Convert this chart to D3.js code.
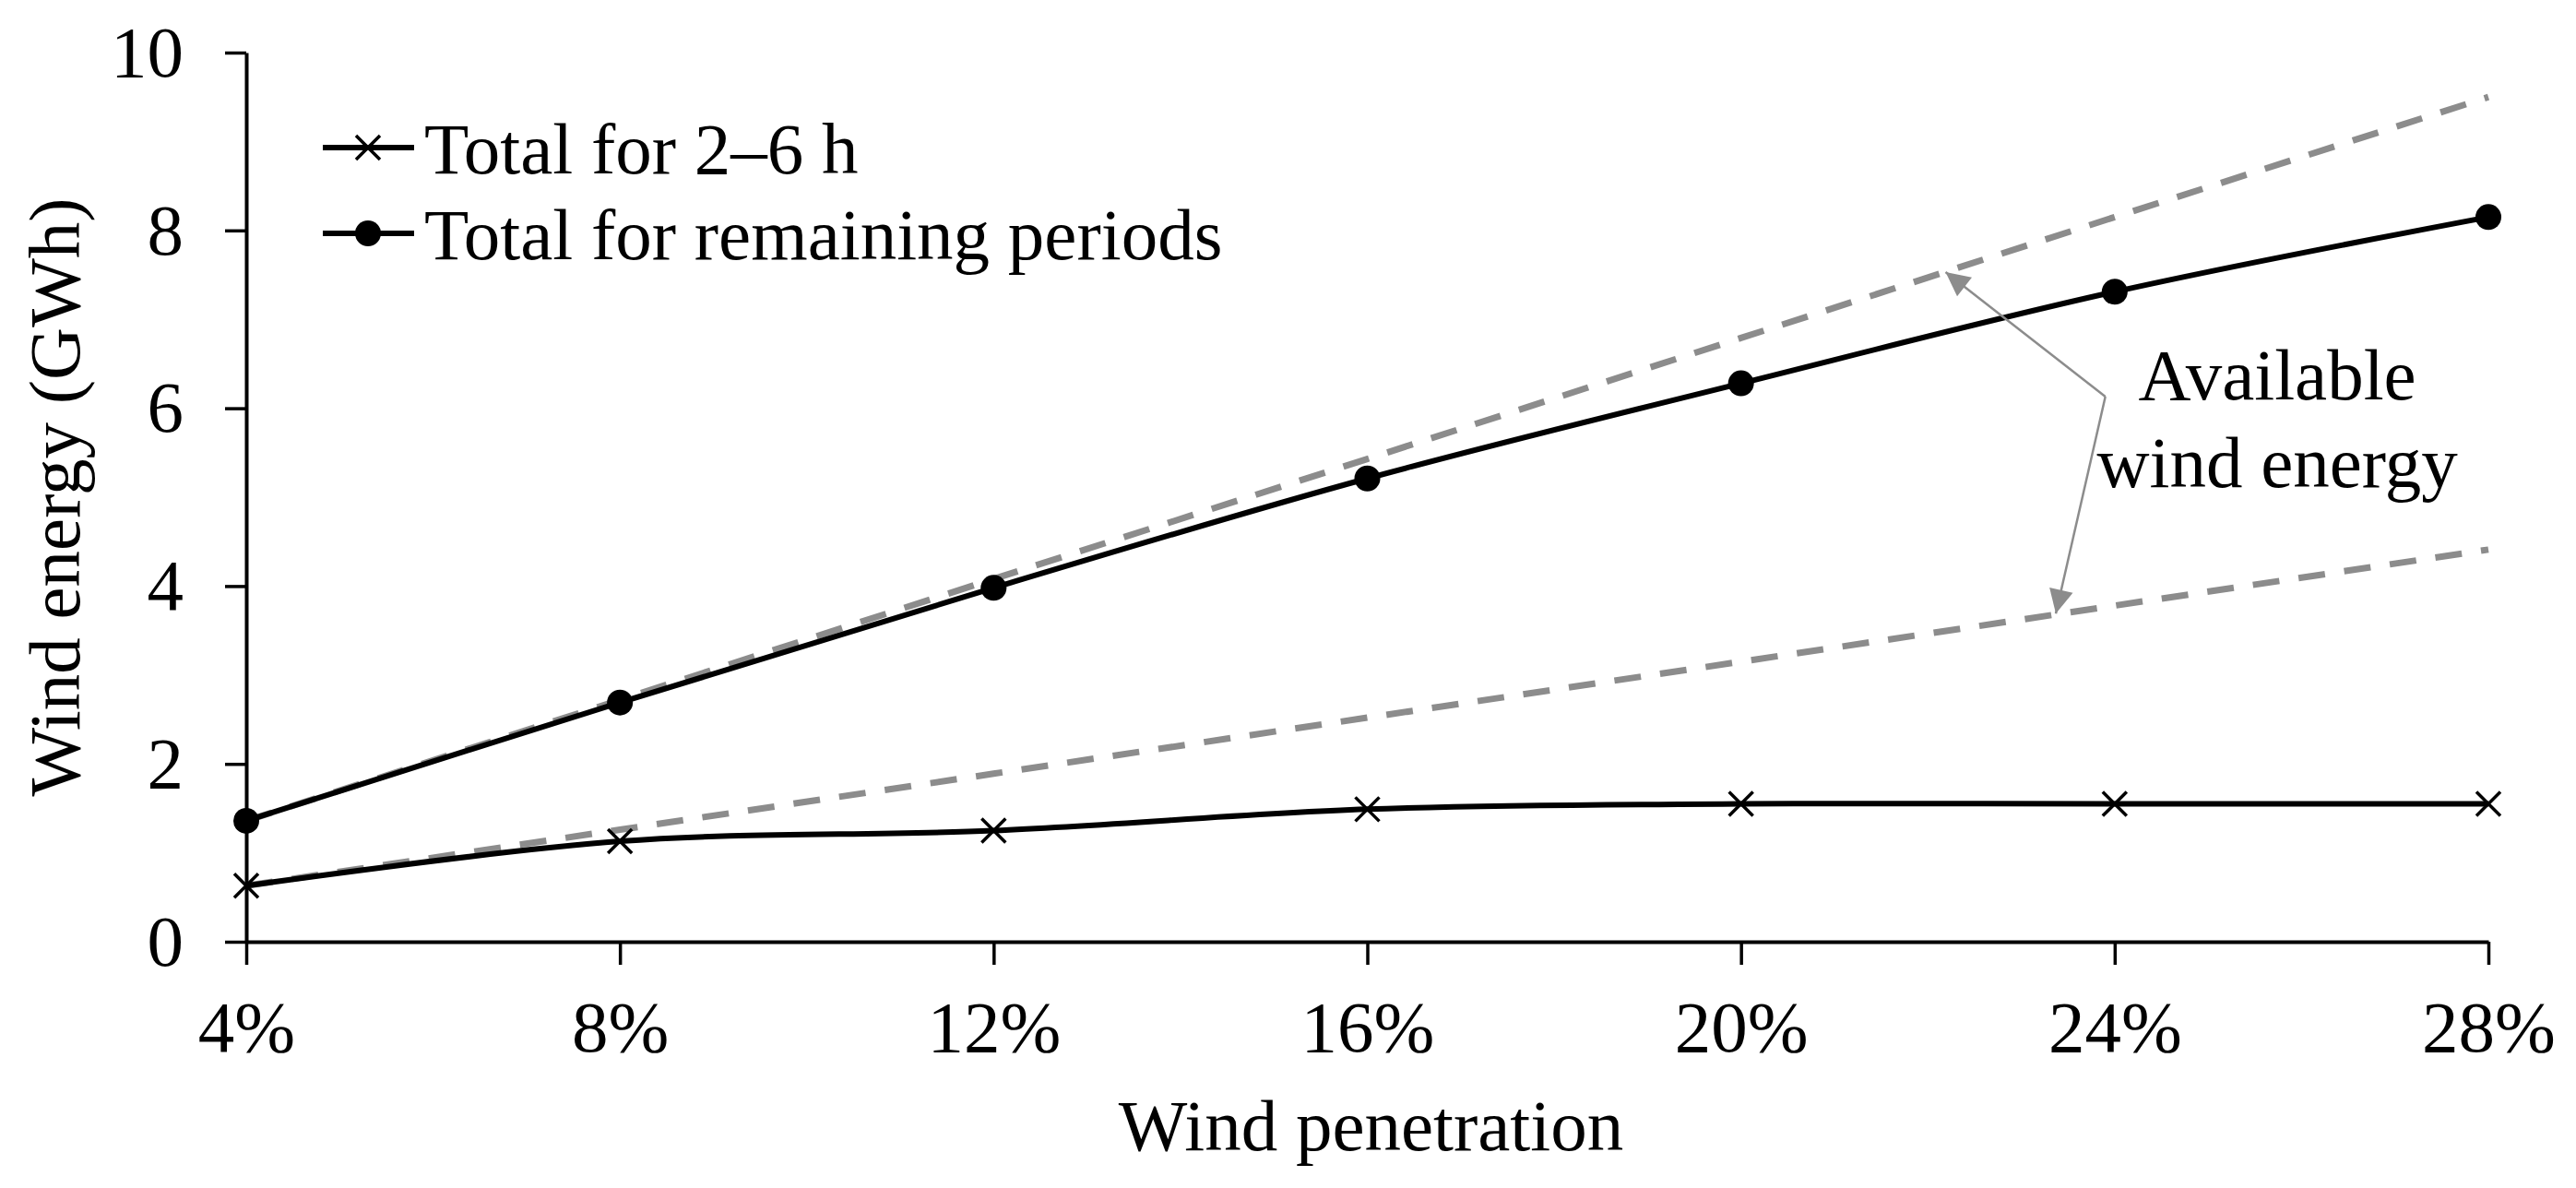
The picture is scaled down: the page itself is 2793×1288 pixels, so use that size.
<!DOCTYPE html>
<html>
<head>
<meta charset="utf-8">
<script src="https://cdn.jsdelivr.net/npm/d3@7"></script>
<style>
  body { margin: 0; background: #fff; }
  text { font-family: "Liberation Serif", "Times New Roman", serif; fill: #000; }
</style>
</head>
<body>
<script>
// wind penetration levels (%)
var penetration = [4, 8, 12, 16, 20, 24, 28];
// wind energy used (GWh)
var total26 = [0.63, 1.13, 1.25, 1.49, 1.55, 1.55, 1.55];
var totalRemaining = [1.36, 2.69, 3.98, 5.21, 6.28, 7.31, 8.15];
// available wind energy (GWh), dashed
var available26 = [0.63, 1.26, 1.89, 2.52, 3.15, 3.78, 4.41];
var availableRemaining = [1.36, 2.72, 4.08, 5.43, 6.79, 8.15, 9.50];

var xTicks = [4, 8, 12, 16, 20, 24, 28];
var yTicks = [0, 2, 4, 6, 8, 10];
var legendLabels = ["Total for 2\u20136 h", "Total for remaining periods"];
var annotationLines = ["Available", "wind energy"];
// annotation arrow: elbow then tip (data space)
var arrowUpper = [{x: 23.90, y: 6.13}, {x: 22.19, y: 7.53}];
var arrowLower = [{x: 23.90, y: 6.13}, {x: 23.37, y: 3.69}];

var totalWidth = 2793;
var totalHeight = 1288;
var fontSize = 79;

var margins = {
  top: 57,
  bottom: 267,
  left: 267,
  right: 95
};

var plotWidth = totalWidth - margins.left - margins.right;
var plotHeight = totalHeight - margins.top - margins.bottom;

var translation = function(x, y) {
  return "translate(" + x + "," + y + ")";
};

var scaleX = d3.scaleLinear()
  .domain([4, 28])
  .range([0, plotWidth]);

var scaleY = d3.scaleLinear()
  .domain([0, 10])
  .range([plotHeight, 0]);

var toPoints = function(values) {
  return values.map(function(v, i) {
    return {x: penetration[i], y: v};
  });
};

var smoothLine = d3.line()
  .x(function(d) { return scaleX(d.x); })
  .y(function(d) { return scaleY(d.y); })
  .curve(d3.curveCatmullRom.alpha(0.5));

var straightLine = d3.line()
  .x(function(d) { return scaleX(d.x); })
  .y(function(d) { return scaleY(d.y); });

var root = d3.select("body").append("svg")
  .attr("width", totalWidth)
  .attr("height", totalHeight);

root.append("defs").append("marker")
  .attr("id", "arrowHead")
  .attr("viewBox", "0 0 10 10")
  .attr("refX", 10)
  .attr("refY", 5)
  .attr("markerUnits", "userSpaceOnUse")
  .attr("markerWidth", 30)
  .attr("markerHeight", 26)
  .attr("orient", "auto")
  .append("path")
  .attr("d", "M0,0 L10,5 L0,10 Z")
  .attr("fill", "#8c8c8c");

var svg = root.append("g")
  .attr("transform", translation(margins.left, margins.top));

// dashed available energy lines
[available26, availableRemaining].forEach(function(series) {
  svg.append("path")
    .datum(toPoints(series))
    .attr("d", straightLine)
    .attr("fill", "none")
    .attr("stroke", "#8c8c8c")
    .attr("stroke-width", 7)
    .attr("stroke-dasharray", "29,21");
});

// axes
var xAxis = svg.append("g")
  .attr("transform", translation(0, plotHeight))
  .call(d3.axisBottom(scaleX)
    .tickValues(xTicks)
    .tickSize(25)
    .tickSizeOuter(0)
    .tickPadding(38)
    .tickFormat(function(d) { return d + "%"; }));

var yAxis = svg.append("g")
  .call(d3.axisLeft(scaleY)
    .tickValues(yTicks)
    .tickSize(23)
    .tickSizeOuter(0)
    .tickPadding(45));

[xAxis, yAxis].forEach(function(ax) {
  ax.select(".domain").attr("stroke", "#000").attr("stroke-width", 4);
  ax.selectAll(".tick line").attr("stroke", "#000").attr("stroke-width", 3.5);
  ax.selectAll(".tick text")
    .attr("font-family", "Liberation Serif, Times New Roman, serif")
    .attr("font-size", fontSize)
    .attr("fill", "#000");
});

// series lines
[total26, totalRemaining].forEach(function(series) {
  svg.append("path")
    .datum(toPoints(series))
    .attr("d", smoothLine)
    .attr("fill", "none")
    .attr("stroke", "#000")
    .attr("stroke-width", 6);
});

var crossSize = 13;
var drawCross = function(g, cx, cy) {
  g.append("path")
    .attr("d", "M" + (cx - crossSize) + "," + (cy - crossSize) + "L" + (cx + crossSize) + "," + (cy + crossSize) +
      "M" + (cx - crossSize) + "," + (cy + crossSize) + "L" + (cx + crossSize) + "," + (cy - crossSize))
    .attr("stroke", "#000")
    .attr("stroke-width", 3.5)
    .attr("fill", "none");
};

toPoints(total26).forEach(function(d) {
  drawCross(svg, scaleX(d.x), scaleY(d.y));
});

svg.selectAll("circle.dot")
  .data(toPoints(totalRemaining))
  .enter().append("circle")
  .attr("class", "dot")
  .attr("cx", function(d) { return scaleX(d.x); })
  .attr("cy", function(d) { return scaleY(d.y); })
  .attr("r", 14)
  .attr("fill", "#000");

// annotation arrows
[arrowUpper, arrowLower].forEach(function(pts) {
  svg.append("path")
    .datum(pts)
    .attr("d", straightLine)
    .attr("fill", "none")
    .attr("stroke", "#8c8c8c")
    .attr("stroke-width", 2.5)
    .attr("marker-end", "url(#arrowHead)");
});

var annotationBaselines = [6.10, 5.11];
annotationLines.forEach(function(t, i) {
  svg.append("text")
    .attr("x", scaleX(25.74))
    .attr("y", scaleY(annotationBaselines[i]))
    .attr("text-anchor", "middle")
    .attr("font-size", fontSize)
    .text(t);
});

// axis titles
svg.append("text")
  .attr("transform", translation(plotWidth / 2 + 4, plotHeight + 226))
  .attr("text-anchor", "middle")
  .attr("font-size", fontSize)
  .text("Wind penetration");

svg.append("text")
  .attr("transform", translation(86 - margins.left, plotHeight / 2) + " rotate(-90)")
  .attr("text-anchor", "middle")
  .attr("font-size", fontSize)
  .text("Wind energy (GWh)");

// legend
var legend = root.append("g");
var legendRows = [160, 253];
legendLabels.forEach(function(label, i) {
  var y = legendRows[i];
  legend.append("line")
    .attr("x1", 350).attr("x2", 449)
    .attr("y1", y).attr("y2", y)
    .attr("stroke", "#000")
    .attr("stroke-width", 6);
  if (i === 0) {
    drawCross(legend, 399, y);
  } else {
    legend.append("circle")
      .attr("cx", 399).attr("cy", y).attr("r", 14)
      .attr("fill", "#000");
  }
  legend.append("text")
    .attr("x", 460)
    .attr("y", y + 28)
    .attr("font-size", fontSize)
    .text(label);
});
</script>
</body>
</html>
